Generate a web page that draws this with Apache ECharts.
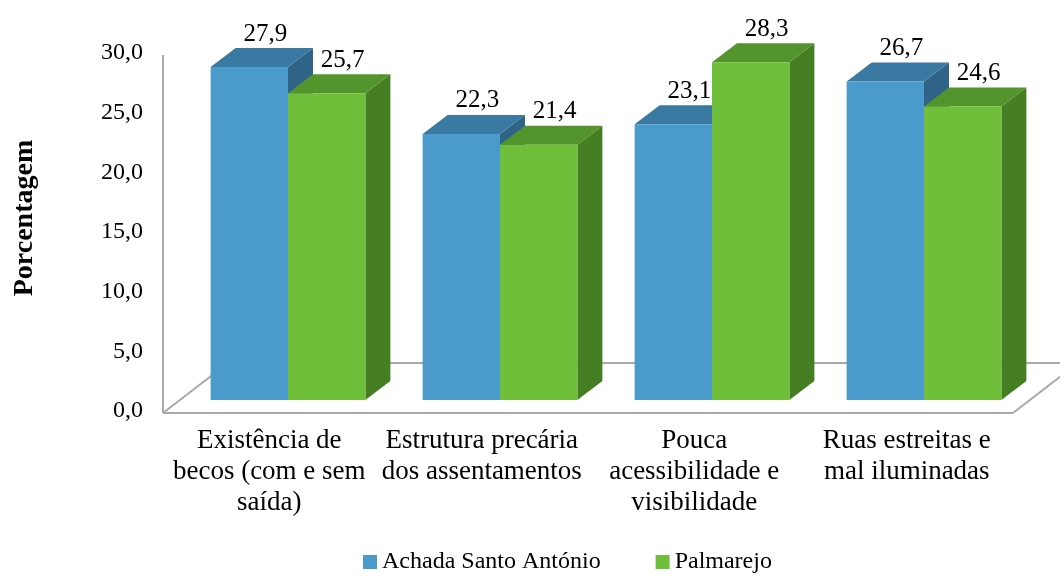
<!DOCTYPE html>
<html>
<head>
<meta charset="utf-8">
<script src="https://cdn.jsdelivr.net/npm/echarts@6/dist/echarts.min.js"></script>
<style>
  html, body { margin: 0; padding: 0; background: #ffffff; }
  #chart { width: 1060px; height: 576px; }
</style>
</head>
<body>
<div id="chart"></div>
<script>
// Categories (problems reported) and percentages per neighbourhood
const categories = [
  'Existência de\nbecos (com e sem\nsaída)',
  'Estrutura precária\ndos assentamentos',
  'Pouca\nacessibilidade e\nvisibilidade',
  'Ruas estreitas e\nmal iluminadas'
];
const seriesNames = ['Achada Santo António', 'Palmarejo'];
const achadaValues = [27.9, 22.3, 23.1, 26.7];
const palmarejoValues = [25.7, 21.4, 28.3, 24.6];
const yMin = 0;
const yMax = 30;
const yStep = 5;
const yTitle = 'Porcentagem';

const FONT = 'Liberation Serif';
const fmt = v => v.toFixed(1).replace('.', ',');

// colours of the faces of each prism: front, top, side
const palettes = [
  { front: '#4a9bcb', top: '#3a79a2', side: '#2f6488' },
  { front: '#6fbf3b', top: '#54942d', side: '#467e24' }
];

// projection of the bar depth and of the floor depth
const BAR_DEPTH = [25, -19];
const FLOOR_DEPTH = [65, -50];

function prism(sideIdx, pal) {
  return function (params, api) {
    const cat = api.value(0);
    const val = api.value(1);
    const base = api.coord([cat, 0]);
    const top = api.coord([cat, val]);
    const band = api.size([1, 0])[0];
    const w = band * 0.365;
    const x0 = sideIdx === 0 ? base[0] - w : base[0];
    const x1 = x0 + w;
    const yb = base[1], yt = top[1];
    const dx = BAR_DEPTH[0], dy = BAR_DEPTH[1];
    return {
      type: 'group',
      children: [
        { type: 'polygon', shape: { points: [[x1, yb], [x1, yt], [x1 + dx, yt + dy], [x1 + dx, yb + dy]] },
          style: { fill: pal.side } },
        { type: 'polygon', shape: { points: [[x0, yt], [x1, yt], [x1 + dx, yt + dy], [x0 + dx, yt + dy]] },
          style: { fill: pal.top } },
        { type: 'rect', shape: { x: x0, y: yt, width: w, height: yb - yt },
          style: { fill: pal.front } },
        { type: 'text', x: (x0 + x1) / 2 + 16, y: yt - 33,
          style: { text: fmt(val), fill: '#000', fontFamily: FONT, fontSize: 25, align: 'center', verticalAlign: 'middle' } }
      ]
    };
  };
}

// floor outline and front edge of the side wall
function floorRenderer(params, api) {
  const cs = params.coordSys;
  const x0 = cs.x, x1 = cs.x + cs.width;
  const y0 = cs.y + cs.height + 2;
  const yTop = cs.y + 2;
  const [fx, fy] = FLOOR_DEPTH;
  const line = { stroke: '#a9a9a9', lineWidth: 2 };
  return {
    type: 'group',
    children: [
      { type: 'polyline', shape: { points: [[x0 + fx, y0 + fy], [x1 + fx, y0 + fy]] }, style: line },
      { type: 'polyline', shape: { points: [[x0, y0], [x0 + fx, y0 + fy]] }, style: line },
      { type: 'polyline', shape: { points: [[x1, y0], [x1 + fx, y0 + fy]] }, style: line },
      { type: 'polyline', shape: { points: [[x0, y0], [x1, y0]] }, style: line },
      { type: 'polyline', shape: { points: [[x0, yTop], [x0, y0]] }, style: line }
    ]
  };
}

const chart = echarts.init(document.getElementById('chart'), null, { renderer: 'canvas' });

chart.setOption({
  backgroundColor: '#ffffff',
  animation: false,
  textStyle: { fontFamily: FONT },
  legend: {
    data: seriesNames.map(n => ({ name: n, textStyle: { fontFamily: FONT, fontSize: 24, color: '#000' } })),
    left: 363,
    top: 550,
    padding: 0,
    icon: 'rect',
    itemWidth: 14,
    itemHeight: 14,
    itemGap: 55,
    textStyle: { fontFamily: FONT, fontSize: 24, color: '#000' }
  },
  graphic: [
    { type: 'text', x: 25, y: 218, rotation: Math.PI / 2,
      style: { text: yTitle, fontFamily: FONT, fontSize: 28, fontWeight: 'bold', fill: '#000', align: 'center', verticalAlign: 'middle' } }
  ],
  grid: [
    { left: 182, right: 30, top: 42, bottom: 176, containLabel: false, outerBoundsMode: 'none' },
    { left: 163, right: 47, top: 53, bottom: 165, containLabel: false, outerBoundsMode: 'none' }
  ],
  xAxis: [
    { gridIndex: 0, type: 'category', data: categories, show: false },
    { gridIndex: 1, type: 'category', data: categories,
      axisLine: { show: false }, axisTick: { show: false },
      axisLabel: { interval: 0, margin: 14, fontSize: 27, lineHeight: 31, color: '#000', fontFamily: FONT } }
  ],
  yAxis: [
    { gridIndex: 0, type: 'value', min: yMin, max: yMax, interval: yStep, show: false },
    { gridIndex: 1, type: 'value', min: yMin, max: yMax, interval: yStep,
      axisLine: { show: false }, axisTick: { show: false }, splitLine: { show: false },
      axisLabel: { margin: 20, fontSize: 24, color: '#000', fontFamily: FONT, formatter: fmt } }
  ],
  series: [
    { type: 'custom', name: 'floor', xAxisIndex: 1, yAxisIndex: 1, z: 1,
      renderItem: floorRenderer, data: [[0, 0]], silent: true },
    { type: 'custom', name: seriesNames[0], xAxisIndex: 0, yAxisIndex: 0, z: 2,
      itemStyle: { color: palettes[0].front },
      renderItem: prism(0, palettes[0]),
      data: achadaValues.map((v, i) => [i, v]) },
    { type: 'custom', name: seriesNames[1], xAxisIndex: 0, yAxisIndex: 0, z: 3,
      itemStyle: { color: palettes[1].front },
      renderItem: prism(1, palettes[1]),
      data: palmarejoValues.map((v, i) => [i, v]) }
  ]
});
</script>
</body>
</html>
